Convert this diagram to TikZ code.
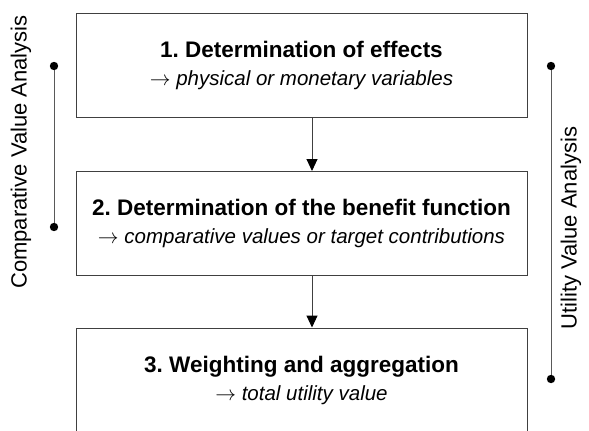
\documentclass[tikz,border=0pt]{standalone}
\usepackage{fontspec}
\setmainfont{Liberation Sans}
\usetikzlibrary{arrows.meta}
\definecolor{framegray}{gray}{0.25}
\definecolor{bargray}{gray}{0.35}
\frenchspacing
\tikzset{
	every step box/.style={
		rectangle,
		draw=framegray,
		line width=1pt,
		minimum width=451pt,
		minimum height=104pt,
		align=center,
		inner sep=0pt,
		font=\fontsize{22.5}{28}\selectfont
	},
	side label/.style={
		rotate=90,
		inner sep=0pt,
		font=\fontsize{22}{26}\selectfont
	},
	side bar/.style={
		draw=bargray,
		line width=1pt
	},
}
\newcommand{\steptitle}[1]{\textbf{#1}}
\newcommand{\stepresult}[1]{{\fontsize{20.5}{28}\selectfont $\rightarrow$ \textit{#1}}}

\begin{document}
\begin{tikzpicture}[x=1pt, y=-1pt, >={Triangle[length=12pt,width=11pt,color=black]}]
\useasboundingbox (0,0) rectangle (589,431);

\foreach \t/\r/\y [count=\i] in {
	1. Determination of effects/physical or monetary variables/65.5,
	2. Determination of the benefit function/comparative values or target contributions/223.5,
	3. Weighting and aggregation/total utility value/380}
	\node [every step box] (step-\i) at (301.5,\y) {\steptitle{\t}\\\stepresult{\r}};

\foreach \i [count=\j from 2] in {1,2}
	\draw [->, framegray, line width=1pt] ([xshift=10.5pt]step-\i.south) -- ([xshift=10.5pt]step-\j.north);

% spans of the two methods
\coordinate (cva-top) at (54,66);
\coordinate (cva-bot) at (54,227);
\coordinate (uva-top) at (551,66);
\coordinate (uva-bot) at (551,379);

\foreach \m in {cva,uva} {
	\draw [side bar] (\m-top) -- (\m-bot);
	\fill (\m-top) circle (4.2);
	\fill (\m-bot) circle (4.2);
}

\node [side label] (cva) at (21,152) {Comparative Value Analysis};
\node [side label] (uva) at (571,228) {Utility Value Analysis};

\end{tikzpicture}
\end{document}
